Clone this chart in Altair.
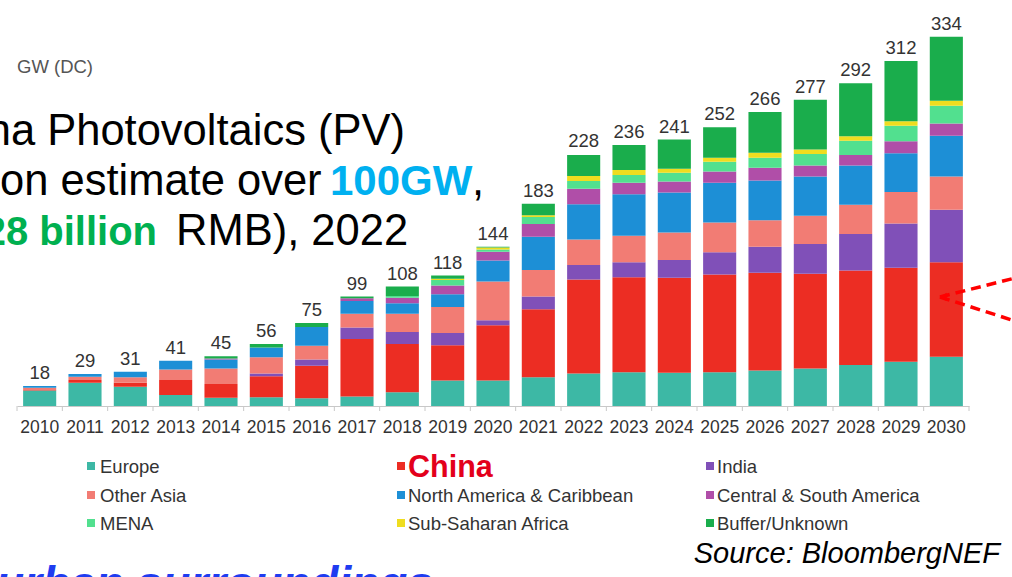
import altair as alt
import pandas as pd

FONT = "Liberation Sans"

years = [str(y) for y in range(2010, 2031)]
totals = [18, 29, 31, 41, 45, 56, 75, 99, 108, 118, 144, 183, 228, 236, 241, 252, 266, 277, 292, 312, 334]

regions = ["Europe", "China", "India", "Other Asia", "North America & Caribbean",
           "Central & South America", "MENA", "Sub-Saharan Africa", "Buffer/Unknown"]
colors = ["#3db8a5", "#ec2d23", "#8050b8", "#f27c74", "#1d8fd6",
          "#b04ea8", "#52e08f", "#efdd1f", "#1aad4c"]

europe        = [14, 21, 17.5, 10, 7.5, 8, 7, 8.5, 12.5, 23, 23, 26, 29.5, 30.5, 30, 30.5, 32, 34, 37, 40, 44.5]
china         = [0.5, 2.5, 3.5, 13.5, 12.5, 19, 29.5, 52, 43.5, 32, 50, 61.5, 85, 86, 86, 88.5, 88.5, 85.5, 85.5, 85, 85.5]
india         = [0, 0, 0, 0, 0, 2.5, 5.5, 10.5, 11, 11, 4.5, 11.5, 13, 13.5, 16, 20, 23.5, 27, 33, 40, 47.5]
other_asia    = [2, 3, 5, 9.5, 14, 14.5, 12.5, 12.5, 16.5, 23.5, 35, 24, 23, 24, 25, 27, 24, 25.5, 26.5, 28.5, 30]
north_america = [1.5, 2.5, 5, 8, 8, 9, 17, 11.5, 9.5, 11.5, 19, 30, 32, 37.5, 36, 36, 36, 35.5, 35.5, 35, 37]
central_south = [0, 0, 0, 0, 1, 0, 0, 2.5, 5, 8, 8, 11.5, 14, 10.5, 10, 10, 11.5, 10, 9.5, 11, 11]
mena          = [0, 0, 0, 0, 0, 0, 0, 0, 1.5, 5, 2, 6.5, 7, 7, 8, 9, 9, 10.5, 13, 14, 16]
sub_saharan   = [0, 0, 0, 0, 0, 0, 0, 0, 0, 1, 1.8, 1.5, 4.5, 4.5, 3.5, 3.5, 4.5, 4, 4, 4, 4.5]
buffer_unk    = [0, 0, 0, 0, 2, 3, 3.5, 1.5, 8.5, 3, 0.7, 10.5, 19, 22.5, 26.5, 27.5, 37, 45, 48, 54.5, 58]

series = [europe, china, india, other_asia, north_america, central_south, mena, sub_saharan, buffer_unk]

rows = []
for i, yr in enumerate(years):
    for k, (name, vals) in enumerate(zip(regions, series)):
        rows.append({"year": yr, "region": name, "value": vals[i], "k": k})
df = pd.DataFrame(rows)
tot_df = pd.DataFrame({"year": years, "total": totals})

# layout
PL, PT = 17, 19
W, H = 952, 387
PR = 1012 - PL - W
PB = 577 - PT - H
P_INNER = 0.27
P_OUTER = 0.135
STEP = W / (len(years) - P_INNER + 2 * P_OUTER)
TICK_SHIFT = P_OUTER * STEP

xscale = alt.Scale(domain=years, paddingInner=P_INNER, paddingOuter=P_OUTER)
yscale = alt.Scale(domain=[0, 350], nice=False, zero=True)
cscale = alt.Scale(domain=regions, range=colors)

bars = alt.Chart(df).mark_bar().encode(
    x=alt.X("year:N", scale=xscale, sort=years,
            axis=alt.Axis(title=None, ticks=False, labelAngle=0, labelFontSize=17.5,
                          labelColor="#333333", labelFont=FONT, labelPadding=12,
                          labelOverlap=False, domainColor="#c8c8c8", domainWidth=1)),
    y=alt.Y("value:Q", stack="zero", scale=yscale, axis=None),
    color=alt.Color("region:N", scale=cscale, legend=None),
    order=alt.Order("k:Q", sort="ascending"),
)

labels = alt.Chart(tot_df).mark_text(
    baseline="alphabetic", dy=-7, fontSize=18.5, color="#333333", font=FONT
).encode(
    x=alt.X("year:N", scale=xscale, sort=years),
    y=alt.Y("total:Q", scale=yscale),
    text="total:Q",
)

ticks = alt.Chart(tot_df).mark_rule(color="#c8c8c8", xOffset=-TICK_SHIFT).encode(
    x=alt.X("year:N", scale=xscale, sort=years, bandPosition=0),
    y=alt.value(H), y2=alt.value(H + 5),
)
end_tick = alt.Chart(tot_df.tail(1)).mark_rule(color="#c8c8c8", xOffset=TICK_SHIFT).encode(
    x=alt.X("year:N", scale=xscale, sort=years, bandPosition=1),
    y=alt.value(H), y2=alt.value(H + 5),
)


def txt(text, x, y, size, color="#000000", weight="normal", style="normal", align="left"):
    return alt.Chart(pd.DataFrame({"t": [text]})).mark_text(
        align=align, baseline="alphabetic", fontSize=size, color=color,
        fontWeight=weight, fontStyle=style, font=FONT
    ).encode(x=alt.value(x - PL), y=alt.value(y - PT), text="t:N")


layers = [bars, ticks, end_tick, labels]

# unit label
layers.append(txt("GW (DC)", 17, 73, 18.5, "#555555"))

# slide text
layers.append(txt("na Photovoltaics (PV)", 405, 145, 43.5, align="right"))
layers.append(txt("on estimate over ", 0, 195, 43.5))
layers.append(txt("100GW", 330, 195, 42, "#00b0f0", "bold"))
layers.append(txt(",", 472, 195, 43.5))
layers.append(txt("28 billion", 157, 245, 40, "#00b050", "bold", align="right"))
layers.append(txt("RMB), 2022", 176, 245, 43.5))

# legend
col_sq = [91, 401, 710]
col_tx = [100, 408, 717]
row_c = [466, 495, 523]
legend_layout = [("Europe", 0, 0), ("Other Asia", 0, 1), ("MENA", 0, 2),
                 ("China", 1, 0), ("North America & Caribbean", 1, 1), ("Sub-Saharan Africa", 1, 2),
                 ("India", 2, 0), ("Central & South America", 2, 1), ("Buffer/Unknown", 2, 2)]
for name, c, r in legend_layout:
    col = colors[regions.index(name)]
    layers.append(
        alt.Chart(pd.DataFrame({"t": [name]})).mark_square(size=64, opacity=1, color=col).encode(
            x=alt.value(col_sq[c] - PL), y=alt.value(row_c[r] - PT)
        )
    )
    if name == "China":
        layers.append(txt(name, col_tx[c], row_c[r] + 11, 30.5, "#e3001b", "bold"))
    else:
        layers.append(txt(name, col_tx[c], row_c[r] + 6.6, 18.5, "#333333"))

layers.append(txt("Source: BloombergNEF", 1000, 563, 29, "#000000", style="italic", align="right"))
layers.append(txt("urban surroundings", -4, 599, 46, "#1f3cf0", "bold", "italic"))

# red dashed arrow
tip_x, tip_y = 940, 297
for ex, ey in [(1015, 278), (1015, 321)]:
    layers.append(
        alt.Chart(pd.DataFrame({"t": [0]})).mark_rule(color="#ff0000", strokeWidth=3.5, strokeDash=[10, 6]).encode(
            x=alt.value(tip_x - PL), y=alt.value(tip_y - PT),
            x2=alt.value(ex - PL), y2=alt.value(ey - PT),
        )
    )
layers.append(
    alt.Chart(pd.DataFrame({"t": [0]})).mark_point(shape="triangle-left", size=70, filled=True,
                                                   opacity=1, color="#ff0000").encode(
        x=alt.value(tip_x + 3 - PL), y=alt.value(tip_y - PT)
    )
)

chart = alt.layer(*layers).properties(
    width=W, height=H,
    autosize=alt.AutoSizeParams(type="none"),
    padding={"left": PL, "top": PT, "right": PR, "bottom": PB},
    background="white",
).configure_view(stroke=None)

chart.save("out.html", embed_options={"renderer": "svg", "actions": False})
